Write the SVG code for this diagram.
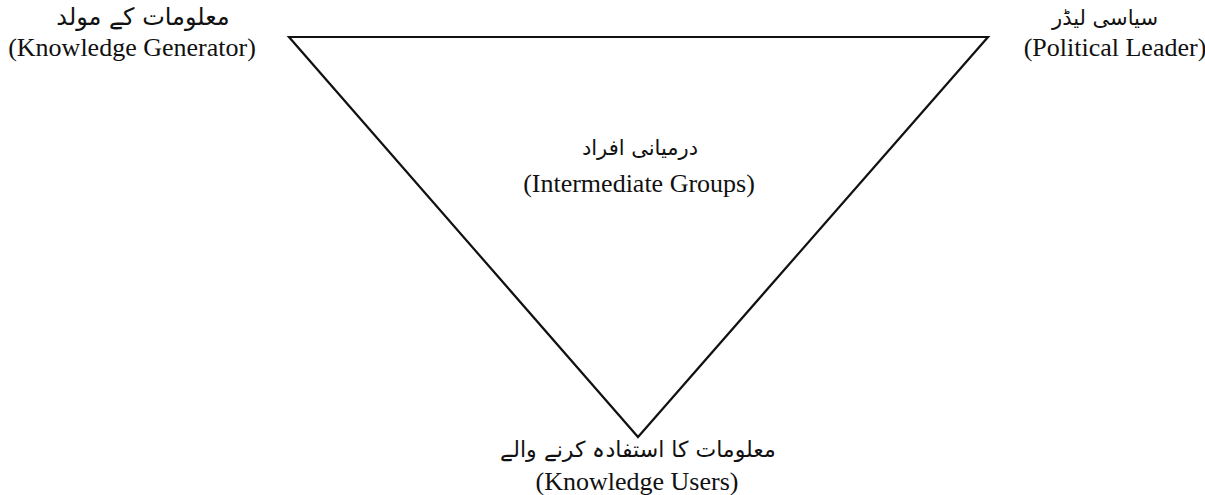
<svg xmlns="http://www.w3.org/2000/svg" width="1205" height="495" viewBox="0 0 1205 495">
<style>
.en{font-family:"Liberation Serif","Times New Roman",serif;font-size:26px;fill:#111;text-anchor:middle}
.ur{font-family:"DejaVu Sans",sans-serif;font-size:21px;fill:#111;text-anchor:middle}
.edge{fill:none;stroke:#111;stroke-width:2.2;stroke-linejoin:miter}
</style>
<rect width="1205" height="495" fill="#fff"/>
<g id="connectors">
<polygon class="edge" points="289,37 988,37 638,437"/>
</g>
<g id="node-generator">
<text class="ur" x="143" y="25" direction="rtl" style="font-size:24px">معلومات کے مولد</text>
<text class="en" x="132" y="56">(Knowledge Generator)</text>
</g>
<g id="node-leader">
<text class="ur" x="1105" y="25" direction="rtl">سیاسی لیڈر</text>
<text class="en" x="1115" y="56">(Political Leader)</text>
</g>
<g id="node-intermediate">
<text class="ur" x="640" y="155" direction="rtl">درمیانی افراد</text>
<text class="en" x="639" y="192">(Intermediate Groups)</text>
</g>
<g id="node-users">
<text class="ur" x="638" y="457" direction="rtl" style="font-size:22px">معلومات کا استفادہ کرنے والے</text>
<text class="en" x="637" y="490">(Knowledge Users)</text>
</g>
</svg>
